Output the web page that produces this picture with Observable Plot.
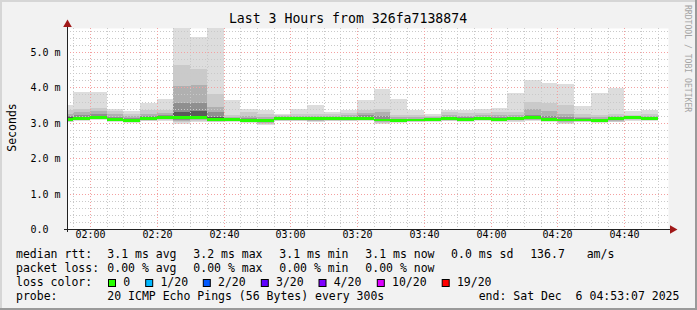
<!DOCTYPE html>
<html><head><meta charset="utf-8">
<script src="https://cdn.jsdelivr.net/npm/d3@7"></script>
<script src="https://cdn.jsdelivr.net/npm/@observablehq/plot@0.6"></script>
<style>
html,body{margin:0;padding:0;background:#f2f2f2;}
#wrap{position:relative;width:697px;height:310px;background:#f2f2f2;overflow:hidden;}
#wrap svg{position:absolute;left:0;top:0;}
</style></head><body><div id="wrap"></div>
<script>
// ---- data ----
const windowStart = "01:53:07";
const windowEnd = "04:53:07";
const barStart = ["01:50","01:55","02:00","02:05","02:10","02:15","02:20","02:25","02:30","02:35","02:40","02:45","02:50","02:55","03:00","03:05","03:10","03:15","03:20","03:25","03:30","03:35","03:40","03:45","03:50","03:55","04:00","04:05","04:10","04:15","04:20","04:25","04:30","04:35","04:40","04:45"];
const median   = [3.10,3.13,3.16,3.10,3.07,3.13,3.16,3.14,3.16,3.10,3.10,3.07,3.07,3.11,3.11,3.11,3.11,3.12,3.13,3.08,3.06,3.08,3.10,3.11,3.10,3.13,3.10,3.11,3.14,3.10,3.08,3.08,3.06,3.11,3.14,3.12];
const smokeMax = [3.49,3.87,3.87,3.40,3.33,3.56,3.66,5.68,5.42,5.68,3.64,3.40,3.35,3.26,3.40,3.49,3.30,3.35,3.64,3.96,3.66,3.35,3.26,3.37,3.35,3.39,3.43,3.83,4.22,4.12,4.09,3.47,3.83,3.97,3.32,3.35];
const smokeHi1 = [3.35,3.40,3.42,3.33,3.26,3.35,3.35,4.62,4.53,3.82,3.22,3.30,3.25,3.22,3.24,3.26,3.24,3.27,3.37,3.40,3.21,3.22,3.20,3.30,3.28,3.27,3.30,3.30,3.59,3.56,3.49,3.24,3.21,3.24,3.22,3.26];
const smokeHi2 = [3.26,3.30,3.33,3.24,3.18,3.26,3.28,4.04,4.06,3.45,3.17,3.18,3.16,3.18,3.19,3.20,3.19,3.21,3.28,3.30,3.15,3.16,3.16,3.21,3.20,3.21,3.22,3.21,3.40,3.33,3.24,3.17,3.15,3.18,3.19,3.20];
const smokeHi3 = [3.19,3.23,3.25,3.17,3.13,3.20,3.23,3.55,3.56,3.30,3.14,3.13,3.12,3.15,3.15,3.16,3.15,3.17,3.21,3.20,3.11,3.12,3.13,3.16,3.15,3.17,3.16,3.16,3.23,3.20,3.15,3.13,3.11,3.15,3.17,3.16];
const smokeHi4 = [3.15,3.17,3.20,3.13,3.10,3.16,3.19,3.30,3.33,3.17,3.12,3.10,3.09,3.13,3.13,3.13,3.13,3.14,3.16,3.12,3.08,3.10,3.11,3.13,3.12,3.15,3.12,3.13,3.18,3.14,3.11,3.10,3.08,3.14,3.16,3.14];
const smokeLo4 = [3.08,3.11,3.14,3.07,3.05,3.11,3.13,3.10,3.12,3.07,3.08,3.05,3.04,3.09,3.09,3.09,3.09,3.10,3.11,3.06,3.04,3.06,3.08,3.09,3.08,3.11,3.08,3.09,3.12,3.08,3.06,3.06,3.04,3.09,3.12,3.10];
const smokeLo3 = [3.07,3.10,3.13,3.06,3.04,3.10,3.12,3.07,3.10,3.06,3.07,3.04,3.02,3.08,3.08,3.08,3.08,3.09,3.10,3.04,3.03,3.05,3.07,3.08,3.07,3.10,3.07,3.08,3.11,3.07,3.04,3.05,3.03,3.07,3.11,3.09];
const smokeLo2 = [3.05,3.09,3.11,3.05,3.03,3.08,3.10,3.05,3.07,3.05,3.06,3.03,3.00,3.07,3.07,3.06,3.07,3.08,3.09,3.02,3.02,3.04,3.06,3.07,3.06,3.09,3.06,3.07,3.09,3.05,3.02,3.04,3.02,3.05,3.10,3.08];
const smokeLo1 = [3.03,3.07,3.10,3.04,3.02,3.06,3.08,3.02,3.04,3.03,3.05,3.02,2.98,3.06,3.05,3.05,3.06,3.06,3.07,3.00,3.01,3.03,3.05,3.06,3.05,3.08,3.05,3.05,3.07,3.04,3.00,3.03,3.01,3.03,3.08,3.07];
const smokeMin = [3.01,3.05,3.08,3.02,3.00,3.04,3.05,2.98,3.01,3.01,3.03,3.00,2.95,3.05,3.04,3.03,3.04,3.04,3.05,2.98,3.00,3.02,3.03,3.04,3.03,3.06,3.03,3.03,3.05,3.02,2.98,3.02,3.00,3.01,3.06,3.05];
const yTicks = [0,1,2,3,4,5];
const yTickLabels = ["0.0","1.0 m","2.0 m","3.0 m","4.0 m","5.0 m"];
const xTickLabels = ["02:00","02:20","02:40","03:00","03:20","03:40","04:00","04:20","04:40"];
const yMax = 5.678;

const title = "Last 3 Hours from 326fa7138874";
const yLabel = "Seconds";
const watermark = "RRDTOOL / TOBI OETIKER";
const rttRow = ["median rtt:","3.1 ms avg","3.2 ms max","3.1 ms min","3.1 ms now","0.0 ms sd","136.7","am/s"];
const lossRow = ["packet loss:","0.00 % avg","0.00 % max","0.00 % min","0.00 % now"];
const lossColorLabel = "loss color:";
const lossLabels = ["0","1/20","2/20","3/20","4/20","10/20","19/20"];
const lossColors = ["#26ff00","#00b8ff","#0059ff","#5e00ff","#7e00ff","#dd00ff","#ff0000"];
const probeRow = ["probe:","20 ICMP Echo Pings (56 Bytes) every 300s","end: Sat Dec  6 04:53:07 2025"];

// ---- helpers ----
function toMin(s){const p=s.split(":").map(Number);return p[0]*60+p[1]+(p[2]||0)/60;}
const t0 = toMin(windowStart), t1 = toMin(windowEnd);
const rows = barStart.map((s,i)=>({x1:toMin(s), x2:toMin(s)+5, i}));
const bandColors = ["#dddddd","#cacaca","#b0b0b0","#8f8f8f","#5a5a5a"];
const bandHi = [smokeMax,smokeHi1,smokeHi2,smokeHi3,smokeHi4];
const bandLo = [smokeMin,smokeLo1,smokeLo2,smokeLo3,smokeLo4];
const xMajor = xTickLabels.map(toMin);
const xMinor = d3.range(115, t1, 5).filter(m=>!xMajor.includes(m));
const yMinor = d3.range(1, 29).map(k=>k/5).filter(v=>Math.abs(v-Math.round(v))>1e-9);
const yMajor = yTicks.filter(v=>v>0);
const mono = "DejaVu Sans Mono";

const chart = Plot.plot({
  width: 697, height: 250,
  marginLeft: 67, marginRight: 29, marginTop: 28, marginBottom: 21,
  x: {domain:[t0,t1], axis:null, round:true},
  y: {domain:[0,yMax], axis:null, round:true},
  style: {background:"transparent", overflow:"visible"},
  marks: [
    Plot.frame({fill:"#ffffff", stroke:null}),
    ...bandColors.map((c,k)=>Plot.rect(rows,{x1:"x1",x2:"x2",y1:d=>bandLo[k][d.i],y2:d=>bandHi[k][d.i],fill:c,clip:true,shapeRendering:"crispEdges"})),
    Plot.ruleY(yMinor,{stroke:"#c9c9c9",strokeDasharray:"1,2"}),
    Plot.ruleX(xMinor,{stroke:"#c9c9c9",strokeDasharray:"1,2"}),
    Plot.ruleY(yMajor,{stroke:"#f4a0a0",strokeDasharray:"1,2"}),
    Plot.ruleX(xMajor,{stroke:"#f4a0a0",strokeDasharray:"1,2"}),
    Plot.rect(rows,{x1:"x1",x2:"x2",y1:d=>median[d.i]-0.04,y2:d=>median[d.i]+0.04,fill:lossColors[0],clip:true,shapeRendering:"crispEdges"}),
    Plot.ruleY([0],{stroke:"#222",insetLeft:-3,insetRight:-2}),
    Plot.ruleX([t0],{stroke:"#222",insetBottom:-3,insetTop:-1}),
    Plot.dot([0],{frameAnchor:"top-left",symbol:"triangle",r:3.2,fill:"#a01818",stroke:null,dy:-4}),
    Plot.dot([0],{frameAnchor:"bottom-right",symbol:"triangle",r:3.2,fill:"#a01818",stroke:null,rotate:90,dx:4}),
    Plot.text(yTicks,{y:d=>d,text:(d,i)=>yTickLabels[i],frameAnchor:"left",dx:-37,textAnchor:"start",fontFamily:mono,fontSize:10,fill:"#000"}),
    Plot.text(xMajor,{x:d=>d,text:(d,i)=>xTickLabels[i],frameAnchor:"bottom",dy:8.5,fontFamily:mono,fontSize:10,fill:"#000"})
  ]
});
document.getElementById("wrap").appendChild(chart);

// ---- overlay: title, labels, legend, frame ----
const svg = d3.select("#wrap").append("svg").attr("width",697).attr("height",310)
  .style("font-family",mono).attr("xml:space","preserve");
svg.append("rect").attr("x",0).attr("y",0).attr("width",697).attr("height",2).attr("fill","#d6d6d6");
svg.append("rect").attr("x",0).attr("y",0).attr("width",2).attr("height",310).attr("fill","#d6d6d6");
svg.append("rect").attr("x",695).attr("y",0).attr("width",2).attr("height",310).attr("fill","#9a9a9a");
svg.append("rect").attr("x",0).attr("y",308).attr("width",697).attr("height",2).attr("fill","#9a9a9a");

svg.append("text").attr("x",348).attr("y",23).attr("text-anchor","middle").attr("font-size",13.2).text(title);
svg.append("text").attr("transform","translate(11.5,127.5) rotate(-90)").attr("text-anchor","middle")
  .attr("dominant-baseline","central").attr("font-size",11.5).text(yLabel);
svg.append("text").attr("transform","translate(687.5,5) rotate(90)").attr("dominant-baseline","central")
  .attr("font-size",8.1).attr("fill","#a4a4a4").text(watermark);

const legendFont = 11.5;
const rttX = [16,107.3,193.3,279.3,365.3,451.1,530.2,586.7];
rttRow.forEach((t,i)=>svg.append("text").attr("x",rttX[i]).attr("y",258).attr("font-size",legendFont).style("white-space","pre").text(t));
lossRow.forEach((t,i)=>svg.append("text").attr("x",rttX[i]).attr("y",272).attr("font-size",legendFont).style("white-space","pre").text(t));
svg.append("text").attr("x",16).attr("y",286).attr("font-size",legendFont).text(lossColorLabel);
const swX = [108.5,145.7,203.3,261.3,319,377.3,442.2];
lossLabels.forEach((t,i)=>{
  svg.append("rect").attr("x",swX[i]).attr("y",279.5).attr("width",7).attr("height",7)
    .attr("fill",lossColors[i]).attr("stroke","#000").attr("stroke-width",1);
  svg.append("text").attr("x",swX[i]+14.7).attr("y",286).attr("font-size",legendFont).text(t);
});
const probeX = [16,107.3,478.7];
probeRow.forEach((t,i)=>svg.append("text").attr("x",probeX[i]).attr("y",300).attr("font-size",legendFont).style("white-space","pre").text(t));
</script>
</body></html>
